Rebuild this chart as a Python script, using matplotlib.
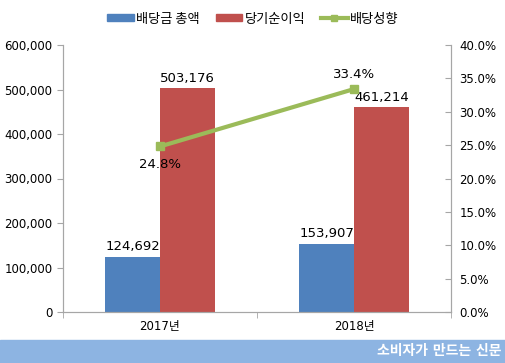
import matplotlib.pyplot as plt
import matplotlib.patches as mpatches
from matplotlib.lines import Line2D
from matplotlib.ticker import FuncFormatter
import numpy as np

# DejaVu for the (wide) digits, Noto CJK for the hangul
plt.rcParams['font.family'] = ['DejaVu Sans', 'Noto Sans CJK KR']

years = ["2017년", "2018년"]
dividend_total = [124692, 153907]
net_income = [503176, 461214]
payout_ratio = [24.8, 33.4]

blue = "#4f81bd"
red = "#c0504d"
green = "#9bbb59"
gray = "#a6a6a6"

fig = plt.figure(figsize=(5.06, 3.63), dpi=100)
ax = fig.add_axes([63 / 506, 1 - 312 / 363, 388 / 506, 267 / 363])
ax2 = ax.twinx()

x = np.arange(len(years))
w = 0.283
ax.bar(x - w / 2, dividend_total, w, color=blue)
ax.bar(x + w / 2, net_income, w, color=red)
for xi, v in zip(x, dividend_total):
    ax.text(xi - w / 2, v + 7000, f"{v:,}", ha="center", va="bottom", fontsize=9.5)
for xi, v in zip(x, net_income):
    ax.text(xi + w / 2, v + 7000, f"{v:,}", ha="center", va="bottom", fontsize=9.5)

ax.set_xlim(-0.5, 1.5)
ax.set_ylim(0, 600000)
ax.set_yticks(range(0, 600001, 100000))
ax.yaxis.set_major_formatter(FuncFormatter(lambda v, p: f"{int(v):,}"))
ax.set_xticks(x)
ax.set_xticklabels(years, fontsize=8.5)
ax.set_xticks([-0.5, 0.5, 1.5], minor=True)
ax.tick_params(axis="x", which="major", length=0, pad=6)
ax.tick_params(axis="x", which="minor", length=4, color=gray)
ax.tick_params(axis="y", labelsize=8.5, length=4, color=gray)

ax2.plot(x, payout_ratio, color=green, lw=3, marker="s", markersize=6)
ax2.set_ylim(0, 40)
ax2.set_yticks(range(0, 41, 5))
ax2.yaxis.set_major_formatter(FuncFormatter(lambda v, p: f"{v:.1f}%"))
ax2.tick_params(axis="y", labelsize=8.5, length=4, color=gray, direction="in", pad=6)
ax2.text(x[0], payout_ratio[0] - 1.8, f"{payout_ratio[0]}%", ha="center", va="top", fontsize=9.5)
ax2.text(x[1], payout_ratio[1] + 1.2, f"{payout_ratio[1]}%", ha="center", va="bottom", fontsize=9.5)

for a in (ax, ax2):
    a.spines["top"].set_visible(False)
    for s in ("left", "right", "bottom"):
        a.spines[s].set_color(gray)

handles = [
    mpatches.Patch(color=blue, label="배당금 총액"),
    mpatches.Patch(color=red, label="당기순이익"),
    Line2D([], [], color=green, lw=3, marker="s", markersize=5, label="배당성향"),
]
fig.legend(handles=handles, loc="center", bbox_to_anchor=(0.5, 1 - 19 / 363), ncol=3,
           frameon=False, prop={"family": ["Noto Sans CJK KR"], "size": 9.5, "weight": "medium"},
           handlelength=2.0, handleheight=0.45, handletextpad=0.2, columnspacing=1.2)

# bottom banner
fig.patches.append(mpatches.Rectangle((0, 0), 1, 23 / 363, transform=fig.transFigure,
                                      color="#8db4e2", zorder=0))
fig.text(502 / 506, 11.5 / 363, "소비자가 만드는 신문", color="white", fontsize=10,
         fontweight="bold", ha="right", va="center")

fig.savefig("out.png", dpi=100)
